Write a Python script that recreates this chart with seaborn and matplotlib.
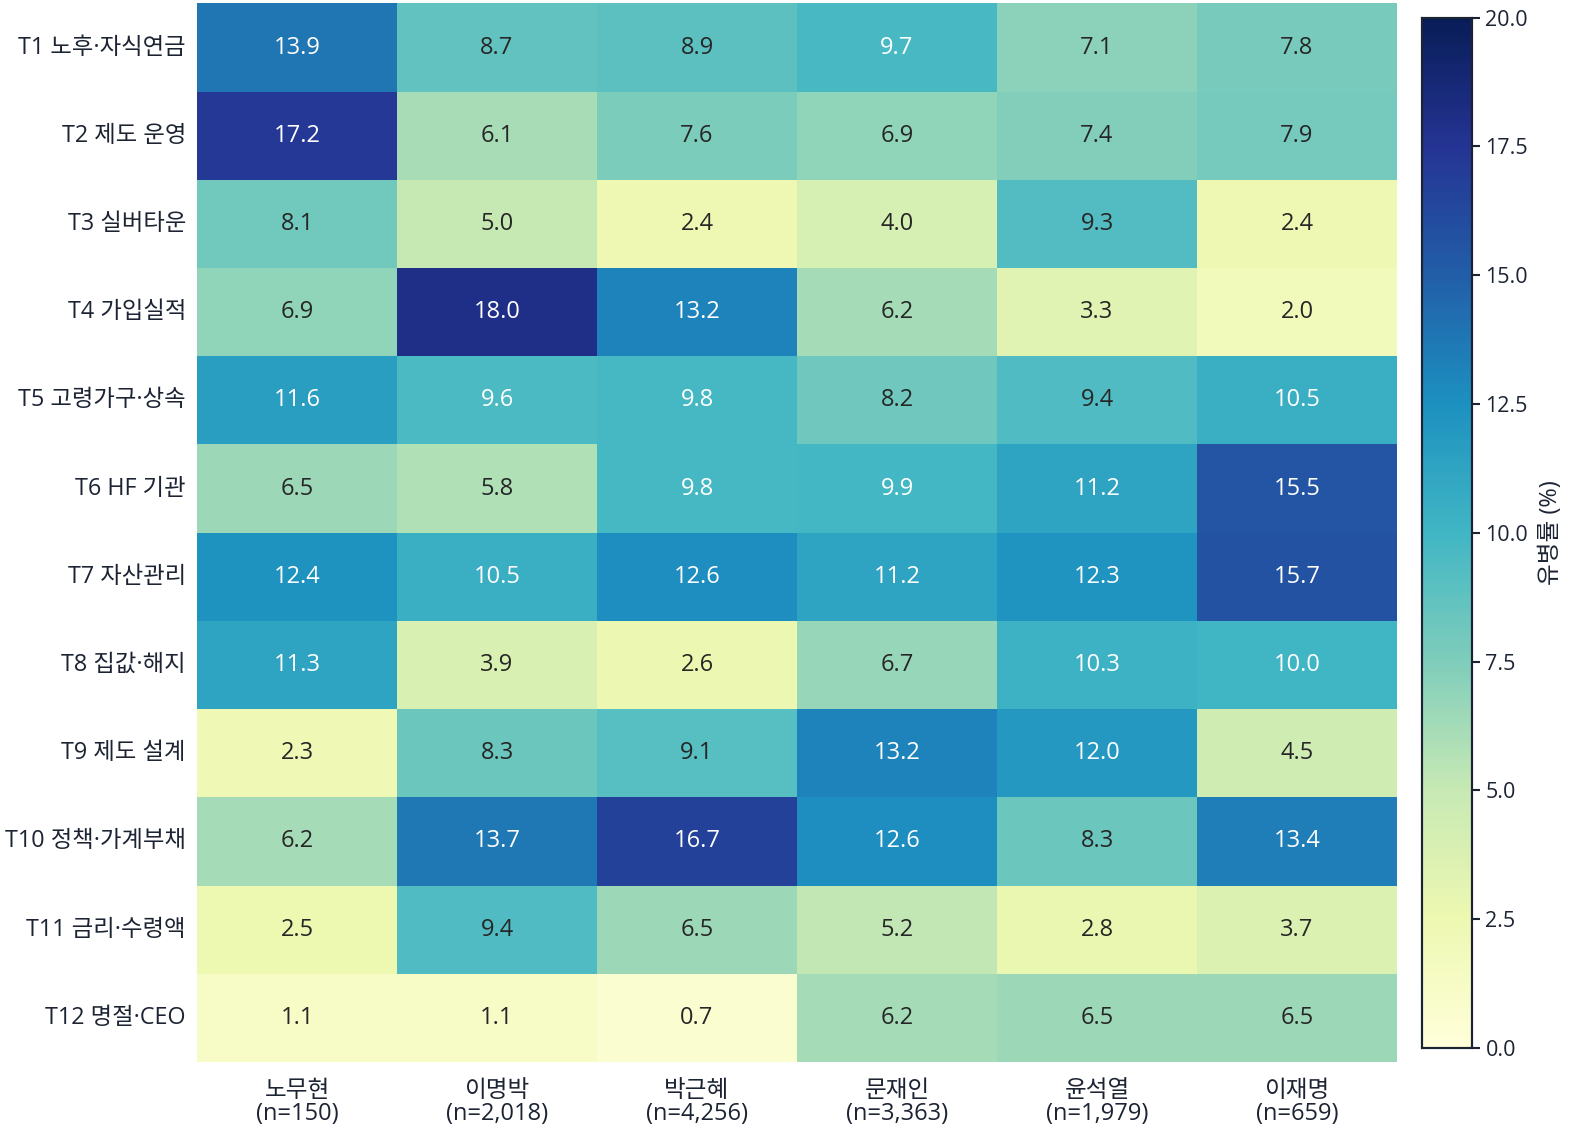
import numpy as np
import pandas as pd
import matplotlib
matplotlib.use("Agg")
import matplotlib.pyplot as plt
import seaborn as sns

# Topics (rows) and administrations (columns)
topics = ["T1 노후·자식연금", "T2 제도 운영", "T3 실버타운", "T4 가입실적",
          "T5 고령가구·상속", "T6 HF 기관", "T7 자산관리", "T8 집값·해지",
          "T9 제도 설계", "T10 정책·가계부채", "T11 금리·수령액", "T12 명절·CEO"]
govs = ["노무현\n(n=150)", "이명박\n(n=2,018)", "박근혜\n(n=4,256)",
        "문재인\n(n=3,363)", "윤석열\n(n=1,979)", "이재명\n(n=659)"]

# Prevalence (%) per column
roh = [13.9, 17.2, 8.1, 6.9, 11.6, 6.5, 12.4, 11.3, 2.3, 6.2, 2.5, 1.1]
lee_mb = [8.7, 6.1, 5.0, 18.0, 9.6, 5.8, 10.5, 3.9, 8.3, 13.7, 9.4, 1.1]
park = [8.9, 7.6, 2.4, 13.2, 9.8, 9.8, 12.6, 2.6, 9.1, 16.7, 6.5, 0.7]
moon = [9.7, 6.9, 4.0, 6.2, 8.2, 9.9, 11.2, 6.7, 13.2, 12.6, 5.2, 6.2]
yoon = [7.1, 7.4, 9.3, 3.3, 9.4, 11.2, 12.3, 10.3, 12.0, 8.3, 2.8, 6.5]
lee_jm = [7.8, 7.9, 2.4, 2.0, 10.5, 15.5, 15.7, 10.0, 4.5, 13.4, 3.7, 6.5]

df = pd.DataFrame(np.array([roh, lee_mb, park, moon, yoon, lee_jm]).T,
                  index=topics, columns=govs)

sns.set_style("white")
plt.rcParams['font.family'] = ['Open Sans', 'Noto Sans CJK KR', 'DejaVu Sans']
txt = '#1c2433'

fig = plt.figure(figsize=(15.83, 11.31), dpi=100)
ax = fig.add_axes([0.1245, 0.061, 0.758, 0.936])
cax = fig.add_axes([0.898, 0.0734, 0.032, 0.911])

sns.heatmap(df, cmap="YlGnBu", vmin=0, vmax=20, annot=True, fmt=".1f",
            annot_kws={"fontsize": 17}, ax=ax, cbar_ax=cax,
            cbar_kws={"ticks": np.arange(0, 20.1, 2.5)})

ax.tick_params(axis='y', length=0, labelsize=16.8, colors=txt, pad=8)
ax.tick_params(axis='x', length=0, labelsize=17, colors=txt, pad=12)
ax.set_yticklabels(ax.get_yticklabels(), rotation=0)
ax.set_xticklabels(ax.get_xticklabels(), rotation=0, linespacing=0.95)
ax.set_xlabel("")
ax.set_ylabel("")

cax.tick_params(labelsize=15.5, colors=txt, length=6, width=1.5)
cax.yaxis.set_major_formatter(matplotlib.ticker.FormatStrFormatter('%.1f'))
for s in cax.spines.values():
    s.set_visible(True)
    s.set_color(txt)
    s.set_linewidth(1.5)
cax.set_ylabel("유병률 (%)", fontsize=17, color=txt, rotation=90, labelpad=8)

fig.savefig("out.png", dpi=100)
